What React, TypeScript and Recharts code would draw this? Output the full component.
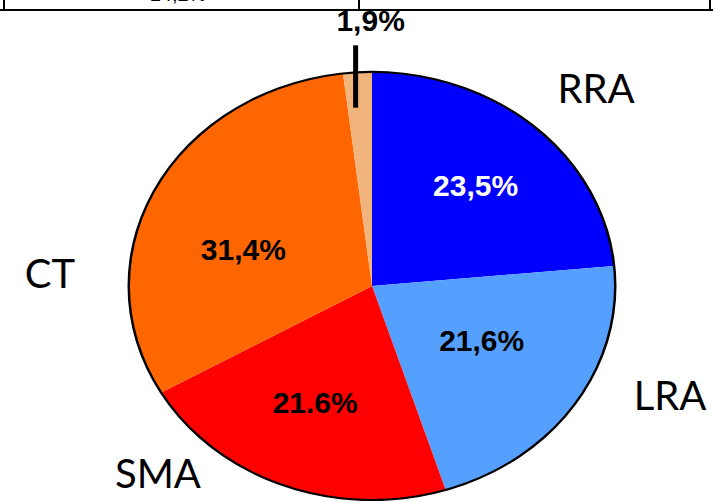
import React from 'react';
import { Cell, Pie, PieChart } from 'recharts';

// slices run clockwise from 12 o'clock
const segments = ['RRA', 'LRA', 'SMA', 'CT', 'Other'];
const shares = [23.5, 21.6, 21.6, 31.4, 1.9];
const decimalMarks = [',', ',', '.', ',', ','];

const colors = ['#0000FF', '#55A0FF', '#FF0000', '#FF6600', '#F0B47C'];
const labelColors = ['#FFFFFF', '#000000', '#000000', '#000000', '#000000'];

// radius / angle nudges for the in-slice percentages
const labelNudge = [
  { r: 154, a: 0 },
  { r: 126, a: 4 },
  { r: 144, a: -2 },
  { r: 135, a: 9 },
];

// outside category names (page coords, baseline)
const namePos: Record<string, { x: number; y: number }> = {
  RRA: { x: 596, y: 103 },
  LRA: { x: 670, y: 410 },
  SMA: { x: 158, y: 488 },
  CT: { x: 50, y: 288 },
};

const data = segments.map((name, i) => ({ name, value: shares[i] }));

const W = 713;
const H = 501;
const CHART_H = 680;
const CX = 372;
const CY = 340;
const R = 243;
const SQUASH = 0.88;
const PAGE_CY = 286;
const RADIAN = Math.PI / 180;

const fmt = (v: number, i: number) => v.toFixed(1).replace('.', decimalMarks[i]) + '%';

function SliceLabel(props: any) {
  const { cx, cy, midAngle, index, value } = props;
  const unsquash = (x: number, y: number) =>
    `translate(${x} ${y}) scale(1 ${1 / SQUASH}) translate(${-x} ${-y})`;
  const font = { fontFamily: '"Liberation Sans", Arial, sans-serif', fontWeight: 700, fontSize: 30 };

  if (index === 4) {
    // tiny slice: vertical leader line out of the top, label above
    const cos = Math.cos(-midAngle * RADIAN);
    const sin = Math.sin(-midAngle * RADIAN);
    const lx = cx + (R - 2) * cos - 2;
    const y1 = cy + 203 * sin;
    const y2 = cy + 274 * sin;
    const ty = cy + 302 * sin;
    const tx = lx + 15;
    return (
      <g>
        <line x1={lx} y1={y1} x2={lx} y2={y2} stroke="#000" strokeWidth={5} />
        <text
          x={tx}
          y={ty}
          textAnchor="middle"
          dominantBaseline="central"
          fill={labelColors[index]}
          transform={unsquash(tx, ty)}
          {...font}
        >
          {fmt(value, index)}
        </text>
      </g>
    );
  }

  const n = labelNudge[index];
  const ang = (midAngle + n.a) * RADIAN;
  const x = cx + n.r * Math.cos(-ang);
  const y = cy + n.r * Math.sin(-ang);
  return (
    <text
      x={x}
      y={y}
      textAnchor="middle"
      dominantBaseline="central"
      fill={labelColors[index]}
      transform={unsquash(x, y)}
      {...font}
    >
      {fmt(value, index)}
    </text>
  );
}

export default function App() {
  return (
    <div
      style={{
        position: 'fixed',
        left: 0,
        top: 0,
        width: W,
        height: H,
        overflow: 'hidden',
        background: '#fff',
      }}
    >
      {/* table edge cut off at the top */}
      <svg width={W} height={H} style={{ position: 'absolute', left: 0, top: 0 }}>
        <line x1={0} y1={10} x2={W} y2={10} stroke="#000" strokeWidth={2} />
        <line x1={4} y1={0} x2={4} y2={11} stroke="#000" strokeWidth={2} />
        <line x1={359} y1={0} x2={359} y2={11} stroke="#000" strokeWidth={2} />
        <line x1={710} y1={0} x2={710} y2={11} stroke="#000" strokeWidth={2} />
        <text
          x={178}
          y={1}
          textAnchor="middle"
          fontFamily='"Liberation Sans", Arial, sans-serif'
          fontSize={20}
          fill="#000"
        >
          14,2%
        </text>
        {Object.entries(namePos).map(([name, p]) => (
          <text
            key={name}
            x={p.x}
            y={p.y}
            textAnchor="middle"
            fontFamily="Lato, sans-serif"
            fontSize={40}
            fill="#000"
          >
            {name}
          </text>
        ))}
      </svg>

      <div
        style={{
          position: 'absolute',
          left: 0,
          top: PAGE_CY - CY,
          width: W,
          height: CHART_H,
          transform: `scaleY(${SQUASH})`,
          transformOrigin: `0 ${CY}px`,
        }}
      >
        <PieChart width={W} height={CHART_H} margin={{ top: 0, right: 0, bottom: 0, left: 0 }}>
          <Pie
            data={data}
            dataKey="value"
            nameKey="name"
            cx={CX}
            cy={CY}
            outerRadius={R}
            startAngle={90}
            endAngle={-270}
            stroke="none"
            label={SliceLabel}
            labelLine={false}
            isAnimationActive={false}
          >
            {data.map((d, i) => (
              <Cell key={d.name} fill={colors[i]} />
            ))}
          </Pie>
          {/* outline ring */}
          <Pie
            data={[{ name: 'rim', value: 1 }]}
            dataKey="value"
            cx={CX}
            cy={CY}
            innerRadius={R - 1}
            outerRadius={R + 1.5}
            startAngle={90}
            endAngle={-270}
            fill="#000"
            stroke="none"
            isAnimationActive={false}
          />
        </PieChart>
      </div>
    </div>
  );
}
